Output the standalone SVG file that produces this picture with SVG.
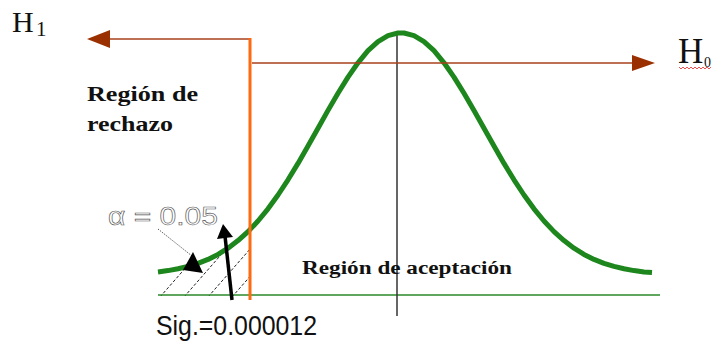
<svg xmlns="http://www.w3.org/2000/svg" width="714" height="342" viewBox="0 0 714 342">
<style>
.serif{font-family:"Liberation Serif","DejaVu Serif",serif;fill:#111}
.bold{font-weight:bold}
.curve{fill:none;stroke:#1d861d;stroke-width:5;stroke-linejoin:round}
.arr{stroke:#a8401c;stroke-width:1.5;fill:none}
.head{fill:#9a3000}
.hatch{stroke:#222;stroke-width:1;stroke-dasharray:3 2}
</style>
<defs>
<clipPath id="hatchClip">
<polygon points="158,271.9 168,270.6 178,268.8 188,266.4 198,263.4 208,259.4 218,254.4 228,248.2 238,240.6 248,231.6 250,229.5 250,296 158,296"/>
</clipPath>
</defs>
<rect width="714" height="342" fill="#fff"/>

<g id="hatching" clip-path="url(#hatchClip)">
<line class="hatch" x1="135" y1="297" x2="185" y2="240"/>
<line class="hatch" x1="160" y1="297" x2="210" y2="240"/>
<line class="hatch" x1="184" y1="297" x2="234" y2="240"/>
<line class="hatch" x1="208" y1="297" x2="258" y2="240"/>
<line class="hatch" x1="232" y1="297" x2="282" y2="240"/>
</g>

<g id="baseline">
<line x1="158" y1="295" x2="660" y2="295" stroke="#2a8a2a" stroke-width="1.5"/>
</g>

<g id="center-line">
<line x1="397" y1="33" x2="397" y2="316" stroke="#333" stroke-width="1.5"/>
</g>

<g id="bell-curve">
<polyline class="curve" points="158,271.9 168,270.6 178,268.8 188,266.4 198,263.4 208,259.4 218,254.4 228,248.2 238,240.6 248,231.6 258,221 268,208.8 278,195 288,179.8 298,163.4 308,146 318,128.2 328,110.4 338,93.2 348,77.1 358,62.8 368,50.7 378,41.6 388,35.6 398,33 404,33 414,35.6 424,41.6 434,50.7 444,62.8 454,77.1 464,93.2 474,110.4 484,128.2 494,146 504,163.4 514,179.8 524,195 534,208.8 544,221 554,231.6 564,240.6 574,248.2 584,254.4 594,259.4 604,263.4 614,266.4 624,268.8 634,270.6 644,271.9 652,272.5"/>
</g>

<g id="connectors">
<g id="arrow-h1">
<line class="arr" x1="250" y1="39" x2="105" y2="39"/>
<polygon class="head" points="87,39 110,30 110,48"/>
</g>
<g id="arrow-h0">
<line class="arr" x1="252" y1="63" x2="635" y2="63"/>
<polygon class="head" points="655,63 632,55 632,71"/>
</g>
<line id="critical-line" x1="250" y1="38" x2="250" y2="300" stroke="#ff6a10" stroke-width="3"/>
<g id="alpha-leader">
<line x1="158" y1="229" x2="192" y2="256" stroke="#222" stroke-width="1" stroke-dasharray="1 1.5"/>
<polygon points="193,252 183,270 203,273" fill="#000"/>
</g>
<g id="sig-arrow">
<line x1="232" y1="300" x2="225" y2="236" stroke="#000" stroke-width="3.5"/>
<polygon points="223,224 217,239 233,237" fill="#000"/>
</g>
</g>

<g id="label-h1">
<text class="serif" x="12" y="32" font-size="30">H</text>
<text class="serif" x="36" y="36" font-size="21">1</text>
</g>
<g id="label-h0">
<text class="serif" x="678" y="63" font-size="35">H</text>
<text class="serif" x="704" y="67" font-size="14">0</text>
<path d="M679,67 l2,2 l2,-2 l2,2 l2,-2 l2,2 l2,-2 l2,2 l2,-2 l2,2 l2,-2 l2,2 l2,-2 l2,2 l2,-2 l2,2 l2,-2" fill="none" stroke="#e22" stroke-width="0.8"/>
</g>
<g id="label-rechazo">
<text class="serif bold" x="87" y="101" font-size="21" textLength="111" lengthAdjust="spacingAndGlyphs">Región de</text>
<text class="serif bold" x="87" y="131" font-size="21" textLength="86" lengthAdjust="spacingAndGlyphs">rechazo</text>
</g>
<g id="label-aceptacion">
<text class="serif bold" x="302" y="274" font-size="18" textLength="210" lengthAdjust="spacingAndGlyphs">Región de aceptación</text>
</g>
<g id="label-alpha">
<text x="108" y="225" font-family="'Liberation Sans','DejaVu Sans',sans-serif" font-size="26" fill="#fff" stroke="#555" stroke-width="0.6" textLength="110" lengthAdjust="spacingAndGlyphs">α = 0.05</text>
</g>
<g id="label-sig">
<text x="156" y="335" font-family="'Liberation Sans','DejaVu Sans',sans-serif" font-size="27" fill="#111" textLength="161" lengthAdjust="spacingAndGlyphs">Sig.=0.000012</text>
</g>
</svg>
